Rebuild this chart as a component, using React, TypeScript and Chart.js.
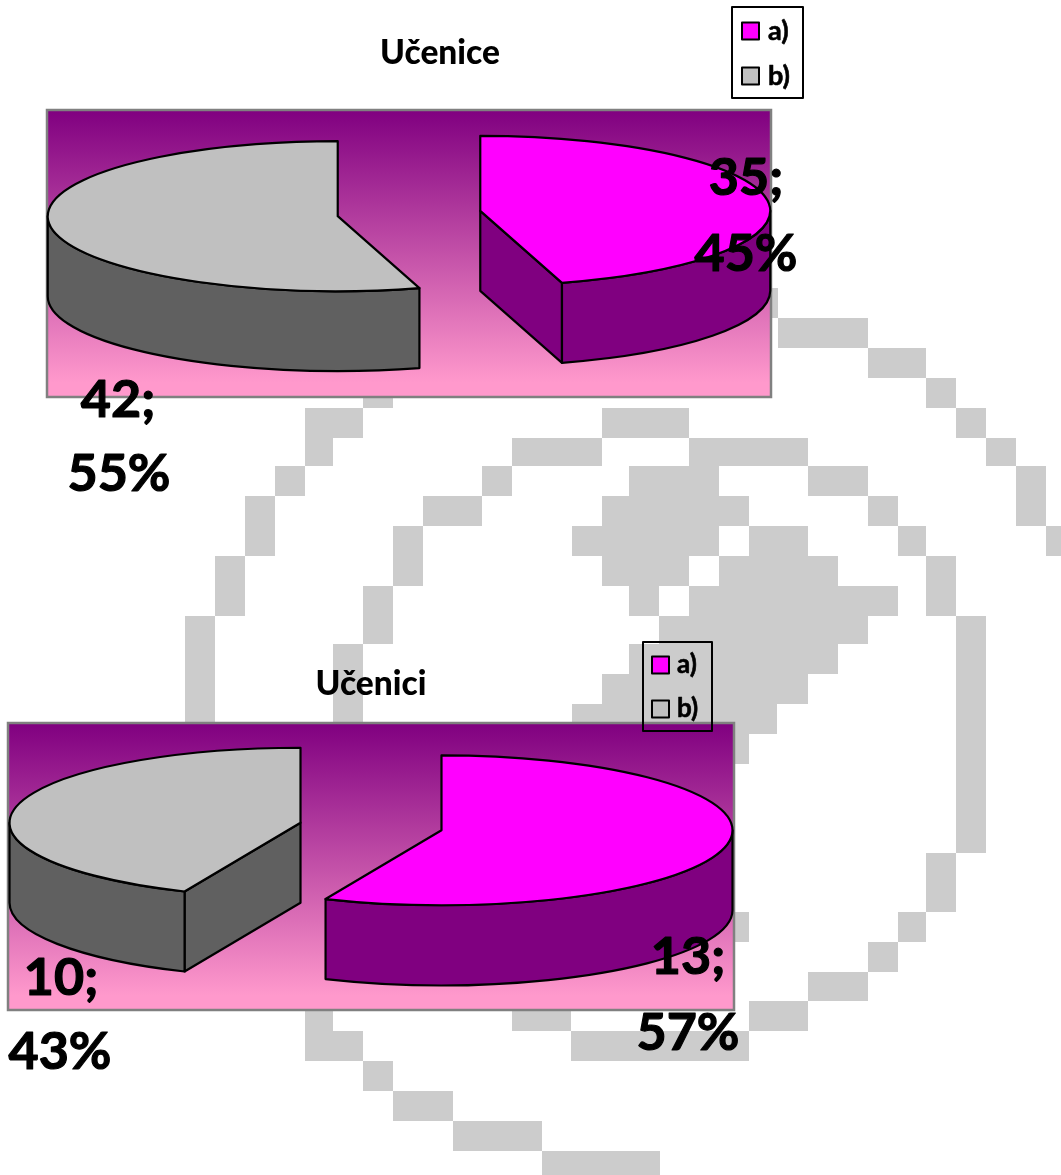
import React, { useEffect, useRef } from "react";
import { Chart, registerables } from "chart.js";

Chart.register(...registerables);

const sliceLabels = ["a)", "b)"];
const topColors = ["#FF00FF", "#C0C0C0"];
const wallColors = ["#800080", "#606060"];

const girlsTitle = "Učenice";
const girlsValues = [35, 42];
const boysTitle = "Učenici";
const boysValues = [13, 10];

// Watermark in the page background: x0, y0, x1, y1
const watermarkCells = [
  [363, 397, 393, 408], [305, 408, 363, 438], [305, 438, 333, 466], [275, 466, 305, 496],
  [245, 496, 275, 556], [215, 556, 245, 616], [185, 616, 215, 730],
  [602, 408, 689, 438], [512, 438, 602, 466], [482, 466, 512, 496], [423, 496, 482, 526],
  [393, 526, 423, 586], [363, 586, 393, 644], [333, 644, 363, 730],
  [771, 288, 778, 318], [778, 318, 868, 348], [868, 348, 926, 378], [926, 378, 956, 408],
  [956, 408, 986, 438], [986, 438, 1016, 466], [1016, 466, 1046, 526], [1046, 526, 1061, 556],
  [689, 438, 808, 466], [808, 466, 868, 496], [868, 496, 898, 526], [898, 526, 926, 556],
  [926, 556, 956, 616], [956, 616, 986, 853], [926, 853, 956, 912], [898, 912, 926, 942],
  [868, 942, 898, 972], [808, 972, 868, 1001], [749, 1001, 808, 1031], [571, 1031, 749, 1061],
  [512, 1005, 571, 1031], [733, 912, 749, 942],
  [629, 466, 719, 496], [602, 496, 749, 526], [572, 526, 719, 556], [749, 526, 808, 556],
  [602, 556, 689, 586], [719, 556, 838, 586], [629, 586, 659, 616], [689, 586, 898, 616],
  [659, 616, 868, 644], [629, 644, 838, 674], [602, 674, 808, 704], [572, 704, 777, 734],
  [572, 734, 749, 764],
  [305, 1005, 333, 1031], [305, 1031, 363, 1061], [363, 1061, 393, 1091], [393, 1091, 453, 1121],
  [453, 1121, 542, 1151], [542, 1151, 660, 1175],
];

const FONT = "Lato, Carlito, 'Open Sans', sans-serif";

const pie3dPlugin = {
  id: "pie3d",
  afterLayout(chart: any, _a: any, o: any) {
    const t = chart.titleBlock;
    if (t && o.titleShift) {
      t.left += o.titleShift;
      t.right += o.titleShift;
    }
  },
  beforeDraw(chart: any) {
    const { ctx, chartArea: a } = chart;
    const g = ctx.createLinearGradient(0, a.top, 0, a.bottom);
    g.addColorStop(0, "#800080");
    g.addColorStop(0.95, "#FF99CC");
    g.addColorStop(1, "#FF99CC");
    ctx.save();
    ctx.fillStyle = g;
    ctx.fillRect(a.left, a.top, a.right - a.left, a.bottom - a.top);
    ctx.strokeStyle = "#808080";
    ctx.lineWidth = 2.5;
    ctx.strokeRect(a.left, a.top, a.right - a.left, a.bottom - a.top);
    ctx.restore();
  },
  beforeDatasetsDraw(chart: any, _a: any, o: any) {
    const { ctx } = chart;
    const els = chart.getDatasetMeta(0).data;
    ctx.save();
    ctx.lineWidth = 2.2;
    ctx.strokeStyle = "#000";
    ctx.lineJoin = "round";
    els.forEach((el: any, i: number) => {
      const s = el.startAngle;
      const e = el.endAngle;
      const m = (s + e) / 2;
      const R = el.outerRadius;
      const ry = R * o.flatten;
      const off = el.options.offset;
      const cx = el.x + Math.cos(m) * off;
      const cy = el.y - o.depth / 2 + Math.sin(m) * off * o.flatten;
      const px = (a: number) => cx + R * Math.cos(a);
      const py = (a: number) => cy + ry * Math.sin(a);
      const cut = (a: number) => {
        ctx.beginPath();
        ctx.moveTo(cx, cy);
        ctx.lineTo(px(a), py(a));
        ctx.lineTo(px(a), py(a) + o.depth);
        ctx.lineTo(cx, cy + o.depth);
        ctx.closePath();
        ctx.fillStyle = wallColors[i];
        ctx.fill();
        ctx.stroke();
      };
      if (-Math.cos(s) > 1e-6) cut(s);
      if (Math.cos(e) > 1e-6) cut(e);
      // outer wall: the part of the rim that faces the viewer
      [0, 2 * Math.PI].forEach((base) => {
        const a0 = Math.max(s, base);
        const a1 = Math.min(e, base + Math.PI);
        if (a1 <= a0) return;
        ctx.beginPath();
        ctx.ellipse(cx, cy, R, ry, 0, a0, a1);
        ctx.lineTo(px(a1), py(a1) + o.depth);
        ctx.ellipse(cx, cy + o.depth, R, ry, 0, a1, a0, true);
        ctx.closePath();
        ctx.fillStyle = wallColors[i];
        ctx.fill();
        ctx.stroke();
      });
      ctx.beginPath();
      ctx.moveTo(cx, cy);
      ctx.ellipse(cx, cy, R, ry, 0, s, e);
      ctx.closePath();
      ctx.fillStyle = topColors[i];
      ctx.fill();
      ctx.stroke();
    });
    ctx.restore();
    return false;
  },
  afterDraw(chart: any, _a: any, o: any) {
    const { ctx, chartArea: a } = chart;
    const values = chart.data.datasets[0].data as number[];
    const total = values.reduce((p, c) => p + c, 0);
    ctx.save();
    ctx.lineJoin = "round";
    // legend
    const L = o.legend;
    if (L.fill) {
      ctx.fillStyle = L.fill;
      ctx.fillRect(L.left, L.top, L.width, L.height);
    }
    ctx.strokeStyle = "#000";
    ctx.lineWidth = 2;
    ctx.strokeRect(L.left, L.top, L.width, L.height);
    ctx.font = `bold ${L.fontSize}px ${FONT}`;
    ctx.textBaseline = "middle";
    ctx.textAlign = "left";
    sliceLabels.forEach((t, i) => {
      const y = L.top + L.firstY + i * L.step;
      ctx.lineWidth = 2;
      ctx.fillStyle = topColors[i];
      ctx.fillRect(L.left + L.boxX, y - L.box / 2, L.box, L.box);
      ctx.strokeRect(L.left + L.boxX, y - L.box / 2, L.box, L.box);
      ctx.fillStyle = "#000";
      ctx.lineWidth = 0.6;
      ctx.fillText(t, L.left + L.textX, y);
      ctx.strokeText(t, L.left + L.textX, y);
    });
    // value labels
    ctx.font = `bold ${o.labelSize}px ${FONT}`;
    ctx.textAlign = "center";
    ctx.fillStyle = "#000";
    ctx.lineWidth = 1.2;
    const put = (t: string, x: number, y: number) => {
      ctx.fillText(t, x, y);
      ctx.strokeText(t, x, y);
    };
    values.forEach((v, i) => {
      const p = o.labelAnchors[i];
      put(`${v};`, a.left + p.x, a.top + p.y);
      put(`${Math.round((v / total) * 100)}%`, a.left + p.x2, a.top + p.y + p.gap);
    });
    ctx.restore();
  },
};

function makeChart(canvas: HTMLCanvasElement, cfg: any) {
  return new Chart(canvas, {
    type: "pie",
    data: {
      labels: sliceLabels,
      datasets: [
        {
          data: cfg.values,
          backgroundColor: topColors,
          borderColor: "#000",
          borderWidth: 1,
          offset: cfg.offset,
          radius: cfg.radius,
        } as any,
      ],
    },
    plugins: [pie3dPlugin as any],
    options: {
      responsive: false,
      animation: false,
      events: [],
      layout: { padding: cfg.padding },
      plugins: {
        legend: { display: false },
        tooltip: { enabled: false },
        title: {
          display: true,
          text: cfg.title,
          color: "#000",
          font: { family: FONT, size: cfg.titleSize, weight: "900", lineHeight: 1.2 },
          padding: cfg.titlePadding,
        },
        pie3d: {
          depth: cfg.depth,
          flatten: cfg.flatten,
          legend: cfg.legend,
          labelSize: cfg.labelSize,
          labelAnchors: cfg.labelAnchors,
          titleShift: cfg.titleShift,
        },
      } as any,
    },
  } as any);
}

export default function App() {
  const a = useRef<HTMLCanvasElement>(null);
  const b = useRef<HTMLCanvasElement>(null);
  useEffect(() => {
    document.body.style.background = "#fff";
    const c1 = makeChart(a.current!, {
      values: girlsValues,
      title: girlsTitle,
      titleSize: 33.5,
      titleShift: 31,
      titlePadding: { top: 33, bottom: 36.8 },
      padding: { left: 47, right: 110, top: 0, bottom: 123 },
      radius: 290,
      offset: 72,
      depth: 80,
      flatten: 0.2586,
      labelSize: 52,
      labelAnchors: [
        { x: 699, y: 68, x2: 699, gap: 76 },
        { x: 71, y: 290, x2: 72, gap: 74 },
      ],
      legend: { left: 732, top: 7, width: 71, height: 91, fill: "#fff", boxX: 10, box: 17, textX: 36, firstY: 24, step: 45, fontSize: 27 },
    });
    const c2 = makeChart(b.current!, {
      values: boysValues,
      title: boysTitle,
      titleSize: 33.5,
      titlePadding: { top: 44, bottom: 18.8 },
      padding: { left: 8, right: 8, top: 0, bottom: 90 },
      radius: 291,
      offset: 72,
      depth: 80,
      flatten: 0.2577,
      labelSize: 52,
      labelAnchors: [
        { x: 680, y: 234, x2: 680, gap: 76 },
        { x: 53, y: 255, x2: 52, gap: 74 },
      ],
      legend: { left: 643, top: 22, width: 69, height: 89, fill: "", boxX: 9, box: 17, textX: 34, firstY: 23, step: 44, fontSize: 26 },
    });
    return () => {
      c1.destroy();
      c2.destroy();
    };
  }, []);
  return (
    <div style={{ position: "absolute", left: 0, top: 0, width: 1061, height: 1175, overflow: "hidden", background: "#fff" }}>
      <svg width={1061} height={1175} shapeRendering="crispEdges" style={{ position: "absolute", left: 0, top: 0 }}>
        {watermarkCells.map(([x0, y0, x1, y1], i) => (
          <rect key={i} x={x0} y={y0} width={x1 - x0} height={y1 - y0} fill="#CCCCCC" />
        ))}
      </svg>
      <canvas ref={a} width={881} height={520} style={{ position: "absolute", left: 0, top: 0 }} />
      <canvas ref={b} width={742} height={480} style={{ position: "absolute", left: 0, top: 620 }} />
    </div>
  );
}
